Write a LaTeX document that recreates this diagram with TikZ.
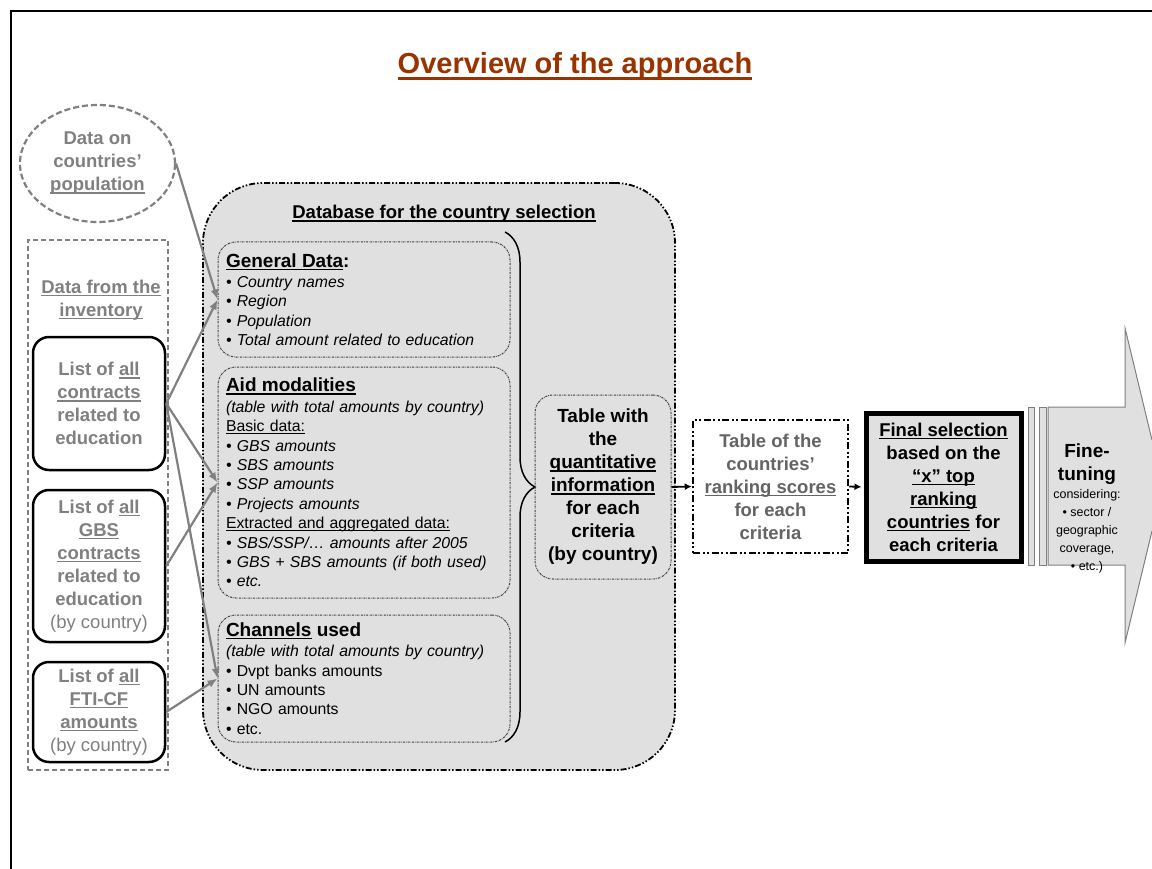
\documentclass[tikz,border=0pt]{standalone}
\usepackage{fontspec}
\setmainfont{Liberation Sans}
\usetikzlibrary{shapes.geometric,arrows.meta,decorations.pathreplacing}
\definecolor{titlebrown}{RGB}{153,51,0}
\definecolor{txtgray}{RGB}{128,128,128}
\definecolor{rankgray}{RGB}{100,100,100}
\definecolor{dbfill}{RGB}{224,224,224}
\definecolor{linegray}{RGB}{128,128,128}
\newsavebox\myulbox
\newcommand\myul[1]{\leavevmode\sbox\myulbox{#1}\rlap{\rule[-3pt]{\wd\myulbox}{1.5pt}}\usebox\myulbox}
\newcommand\myulthin[1]{\leavevmode\sbox\myulbox{#1}\rlap{\rule[-2.5pt]{\wd\myulbox}{0.8pt}}\usebox\myulbox}
\newcommand\myulbig[1]{\leavevmode\sbox\myulbox{#1}\rlap{\rule[-6pt]{\wd\myulbox}{2.8pt}}\usebox\myulbox}
\begin{document}
\begin{tikzpicture}[x=1pt,y=-1pt,
  boldtxt/.style={font=\bfseries\fontsize{18.5}{23}\selectfont, align=center},
  leftbox/.style={boldtxt, draw=black, line width=2.5pt, rounded corners=16pt,
    minimum width=132pt, text=txtgray, inner sep=0pt},
  dbbox/.style={draw=black, fill=dbfill, line width=1.8pt, rounded corners=60pt,
    dash pattern=on 6pt off 2pt on 1.5pt off 2pt on 1.5pt off 2pt},
  subbox/.style={draw=black!75, line width=1pt, dash pattern=on 2pt off 1pt on 0.6pt off 1pt,
    rounded corners=18pt, text width=276pt, align=left, inner xsep=8pt, inner ysep=0pt,
    font=\fontsize{15.8}{19.4}\selectfont},
  grpbox/.style={draw=linegray, line width=1.8pt, dash pattern=on 5pt off 3pt},
  graywire/.style={draw=linegray, line width=2.2pt, -{Latex[length=10pt,width=8pt]}},
  blackwire/.style={draw=black, line width=1.8pt, -{Latex[length=7pt,width=7pt]}},
  barbox/.style={draw=linegray, fill=dbfill, line width=0.8pt, inner sep=0pt, minimum height=158pt}
]
\useasboundingbox (0,0) rectangle (1152,869);
\fill[white] (0,0) rectangle (1152,869);

% frame
\coordinate (fbl) at (11,869);
\coordinate (ftl) at (11,11);
\coordinate (ftr) at (1152,11);
\draw[line width=2.5pt] (fbl) -- (ftl) -- (ftr);

% title
\node[font=\bfseries\fontsize{29}{34}\selectfont, text=titlebrown, anchor=base] (title) at (575,74)
  {\myulbig{Overview of the approach}};

% population ellipse
\node[ellipse, draw=linegray, line width=2.2pt, dash pattern=on 6pt off 3pt,
  minimum width=155pt, minimum height=117pt, inner sep=0pt, boldtxt, text=txtgray] (popul) at (97.5,163.5)
  {Data on\\ countries’\\ \myul{population}};

% inventory group
\node[grpbox, minimum width=140pt, minimum height=530pt] (inv) at (98,505) {};
\node[boldtxt, text=txtgray] (invlabel) at (101,300) {\myul{Data from the}\\ \myul{inventory}};

\node[leftbox, minimum height=133pt] (box1) at (99,403.5)
  {\raisebox{0pt}{}List of \myul{all}\\ \myul{contracts}\\ related to\\ education};
\node[leftbox, minimum height=152pt] (box2) at (99,566)
  {List of \myul{all}\\ \myul{GBS}\\ \myul{contracts}\\ related to\\ education\\ {\mdseries (by country)}};
\node[leftbox, minimum height=100pt] (box3) at (99,712)
  {List of \myul{all}\\ \myul{FTI-CF}\\ \myul{amounts}\\ {\mdseries (by country)}};

% database
\node[dbbox, minimum width=472pt, minimum height=587pt] (db) at (439,476.5) {};
\node[font=\bfseries\fontsize{18.5}{22}\selectfont] (dbtitle) at (444,214)
  {\myul{Database for the country selection}};

\node[subbox, minimum height=115pt] (gen) at (364,299.5)
  {{\bfseries\fontsize{19}{23}\selectfont\myul{General Data}:}\\[1pt]
   {\itshape • Country names}\\
   {\itshape • Region}\\
   {\itshape • Population}\\
   {\itshape • Total amount related to education}};
\node[subbox, minimum height=231pt] (aid) at (364,482.5)
  {{\bfseries\fontsize{19}{23}\selectfont\myul{Aid modalities}}\\[1pt]
   {\itshape (table with total amounts by country)}\\
   \myulthin{Basic data:}\\
   {\itshape • GBS amounts}\\
   {\itshape • SBS amounts}\\
   {\itshape • SSP amounts}\\
   {\itshape • Projects amounts}\\
   \myulthin{Extracted and aggregated data:}\\
   {\itshape • SBS/SSP/… amounts after 2005}\\
   {\itshape • GBS + SBS amounts (if both used)}\\
   {\itshape • etc.}};
\node[subbox, minimum height=127pt] (chan) at (364,678.5)
  {{\bfseries\fontsize{19}{23}\selectfont\myul{Channels} used}\\[1pt]
   {\itshape (table with total amounts by country)}\\
   • Dvpt banks amounts\\
   • UN amounts\\
   • NGO amounts\\
   • etc.};

% brace
\coordinate (brtop) at (505,232);
\coordinate (brbot) at (505,742);
\draw[decorate, decoration={brace, amplitude=30pt}, line width=1.5pt] (brtop) -- (brbot);

% table with quantitative info
\node[draw=black!75, line width=1pt, dash pattern=on 2pt off 1pt on 0.6pt off 1pt,
  rounded corners=18pt, minimum width=136pt, minimum height=184pt, inner sep=0pt,
  font=\bfseries\fontsize{19}{23}\selectfont, align=center] (tab) at (603,487)
  {Table with\\ the\\ \myul{quantitative}\\ \myul{information}\\ for each\\ criteria\\ (by country)};

% ranking
\node[draw=black, line width=2.5pt, dash pattern=on 7pt off 2.5pt on 2pt off 2.5pt on 2pt off 2.5pt,
  minimum width=155pt, minimum height=133pt, inner sep=0pt, boldtxt, text=rankgray] (rank) at (770.5,486.5)
  {Table of the\\ countries’\\ \myul{ranking scores}\\ for each\\ criteria};

% final selection
\node[draw=black, fill=dbfill, line width=5pt, minimum width=155pt, minimum height=148pt,
  inner sep=0pt, boldtxt] (final) at (943.5,487)
  {\myul{Final selection}\\ based on the\\ \myul{“x” top}\\ \myul{ranking}\\ \myul{countries} for\\ each criteria};

% bars and big arrow
\node[barbox, minimum width=6pt] (bar1) at (1031,486) {};
\node[barbox, minimum width=7pt] (bar2) at (1042.5,486) {};
\fill[dbfill] (1048,407) -- (1125,407) -- (1125,328) -- (1152,440) -- (1152,531) -- (1125,643) -- (1125,565) -- (1048,565) -- cycle;
\draw[linegray, line width=1pt] (1152,440) -- (1125,328) -- (1125,407) -- (1048,407) -- (1048,565) -- (1125,565) -- (1125,643) -- (1152,531);
\node[font=\fontsize{12.5}{18}\selectfont, align=center] (fine) at (1087,508)
  {{\bfseries\fontsize{19}{23}\selectfont Fine-}\\[5pt]
   {\bfseries\fontsize{19}{23}\selectfont tuning}\\
   considering:\\ • sector /\\ geographic\\ coverage,\\ • etc.)};

% connectors
\draw[graywire] (popul.east) -- (gen.west);
\draw[graywire] (box1.east) -- (gen.west);
\draw[graywire] (box1.east) -- (aid.west);
\draw[graywire] (box1.east) -- (chan.west);
\draw[graywire] (box2.east) -- (aid.west);
\draw[graywire] (box3.east) -- (chan.west);
\draw[blackwire] (tab.east) -- (rank.west);
\draw[blackwire, shorten >=2pt] (rank.east) -- (final.west);
\end{tikzpicture}
\end{document}
